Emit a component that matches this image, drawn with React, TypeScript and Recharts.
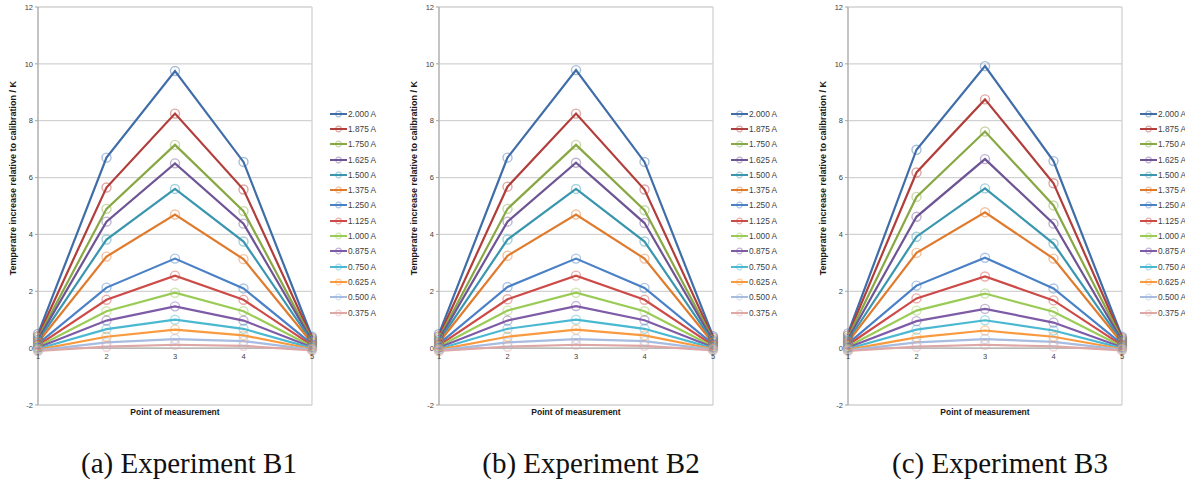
import {
  LineChart,
  Line,
  XAxis,
  YAxis,
  CartesianGrid,
  Legend,
  ReferenceLine,
  ReferenceDot,
} from 'recharts'

// ─── Measurement setup ─────────
const POINTS = [1, 2, 3, 4, 5]
const CURRENTS = [
  '2.000 A', '1.875 A', '1.750 A', '1.625 A', '1.500 A', '1.375 A', '1.250 A',
  '1.125 A', '1.000 A', '0.875 A', '0.750 A', '0.625 A', '0.500 A', '0.375 A',
]
const Y_TICKS = [-2, 0, 2, 4, 6, 8, 10, 12]

// Excel-ish series colours, one per current
const COLORS = [
  '#3F6DA8', '#B13E3B', '#88A844', '#6E5495', '#3A96AE', '#E07B2D', '#4A80C6',
  '#CC4B48', '#9ACB56', '#7D5BA6', '#4BB8D2', '#F99A3F', '#A7BCE0', '#DDA8A6',
]

// ─── Temperature increase / K, one row per current, one column per point ─────────
const B1 = [
  [0.50, 6.70, 9.75, 6.55, 0.40],
  [0.42, 5.65, 8.25, 5.58, 0.35],
  [0.36, 4.90, 7.15, 4.82, 0.30],
  [0.30, 4.45, 6.50, 4.38, 0.26],
  [0.25, 3.82, 5.60, 3.75, 0.22],
  [0.20, 3.22, 4.70, 3.13, 0.18],
  [0.15, 2.13, 3.15, 2.10, 0.14],
  [0.10, 1.70, 2.55, 1.70, 0.10],
  [0.06, 1.30, 1.95, 1.30, 0.06],
  [0.02, 0.97, 1.47, 0.97, 0.03],
  [-0.02, 0.67, 1.00, 0.68, 0.00],
  [-0.05, 0.40, 0.65, 0.45, -0.03],
  [-0.08, 0.20, 0.32, 0.25, -0.05],
  [-0.10, 0.05, 0.12, 0.08, -0.08],
]

const B2 = [
  [0.50, 6.70, 9.78, 6.55, 0.42],
  [0.42, 5.68, 8.25, 5.58, 0.36],
  [0.36, 4.90, 7.15, 4.85, 0.30],
  [0.30, 4.45, 6.52, 4.40, 0.26],
  [0.25, 3.82, 5.60, 3.75, 0.22],
  [0.20, 3.25, 4.70, 3.15, 0.18],
  [0.15, 2.15, 3.15, 2.12, 0.14],
  [0.10, 1.72, 2.55, 1.70, 0.10],
  [0.06, 1.32, 1.95, 1.30, 0.06],
  [0.02, 0.97, 1.48, 0.98, 0.03],
  [-0.02, 0.68, 1.00, 0.68, 0.00],
  [-0.05, 0.40, 0.65, 0.45, -0.03],
  [-0.08, 0.20, 0.32, 0.25, -0.05],
  [-0.10, 0.05, 0.12, 0.08, -0.08],
]

const B3 = [
  [0.52, 6.98, 9.92, 6.58, 0.40],
  [0.45, 6.18, 8.75, 5.80, 0.35],
  [0.38, 5.32, 7.62, 5.02, 0.30],
  [0.32, 4.62, 6.65, 4.38, 0.26],
  [0.26, 3.92, 5.62, 3.68, 0.22],
  [0.21, 3.35, 4.78, 3.15, 0.18],
  [0.16, 2.20, 3.18, 2.10, 0.14],
  [0.11, 1.75, 2.52, 1.68, 0.10],
  [0.06, 1.32, 1.92, 1.28, 0.06],
  [0.02, 0.95, 1.38, 0.90, 0.03],
  [-0.02, 0.65, 0.98, 0.62, 0.00],
  [-0.05, 0.38, 0.62, 0.40, -0.03],
  [-0.08, 0.20, 0.32, 0.22, -0.05],
  [-0.10, 0.05, 0.12, 0.06, -0.08],
]

const CAPTIONS = ['(a) Experiment B1', '(b) Experiment B2', '(c) Experiment B3']

// ─── Shared styles ─────────
const FONT = '"Liberation Sans", Arial, sans-serif'
const GRID = '#d2d2d2'
const AXIS = '#a6a6a6'
const TEXT = '#404040'

function buildRows(values: number[][]) {
  return POINTS.map((p, i) => {
    const row: Record<string, number> = { point: p }
    values.forEach((series, s) => {
      row[`s${s}`] = series[i]
    })
    return row
  })
}

function YTitle({ viewBox }: any) {
  const x = viewBox.x + 13
  const y = viewBox.y + viewBox.height * 0.43
  return (
    <text
      x={x}
      y={y}
      transform={`rotate(-90, ${x}, ${y})`}
      textAnchor="middle"
      dominantBaseline="central"
      fontSize={9}
      fontWeight="bold"
      fill="#1a1a1a"
      fontFamily={FONT}
    >
      Temperatre increase relative to calibration / K
    </text>
  )
}

// legend keeps the series order (highest current first)
function LegendList({ payload }: any) {
  const items = [...(payload || [])].sort(
    (a: any, b: any) => CURRENTS.indexOf(a.value) - CURRENTS.indexOf(b.value),
  )
  return (
    <div style={{ fontFamily: FONT }}>
      {items.map((item: any) => (
        <div key={item.value} style={{ display: 'flex', alignItems: 'center', height: 15.3 }}>
          <svg width={17} height={8} style={{ display: 'block' }}>
            <line x1={0} y1={4} x2={17} y2={4} stroke={item.color} strokeWidth={2} />
            <circle cx={8.5} cy={4} r={2.8} fill="none" stroke={item.color} strokeOpacity={0.45} strokeWidth={1.2} />
          </svg>
          <span style={{ fontSize: 8.3, color: TEXT, marginLeft: 1, whiteSpace: 'nowrap' }}>{item.value}</span>
        </div>
      ))}
    </div>
  )
}

function Panel({ values, left }: { values: number[][]; left: number }) {
  const data = buildRows(values)
  return (
    <div style={{ position: 'absolute', left, top: 0 }}>
      <LineChart
        width={395}
        height={420}
        data={data}
        margin={{ top: 7, right: 83, bottom: 5, left: 0 }}
      >
        <CartesianGrid stroke={GRID} strokeWidth={1.3} />
        <XAxis
          dataKey="point"
          tick={false}
          axisLine={false}
          tickLine={false}
          height={10}
          label={{
            value: 'Point of measurement',
            position: 'insideBottom',
            offset: 0,
            fontSize: 8.5,
            fontWeight: 'bold',
            fill: '#1a1a1a',
            fontFamily: FONT,
          }}
        />
        <YAxis
          domain={[-2, 12]}
          ticks={Y_TICKS}
          width={38}
          tickSize={3}
          axisLine={{ stroke: AXIS }}
          tickLine={{ stroke: AXIS }}
          tick={{ fontSize: 7.5, fill: TEXT, fontFamily: FONT }}
          label={<YTitle />}
        />
        <ReferenceLine y={0} stroke={AXIS} />
        {POINTS.map((p) => (
          <ReferenceDot
            key={p}
            x={p}
            y={0}
            r={0}
            stroke="none"
            fill="none"
            label={{ value: String(p), position: 'bottom', offset: 6, fontSize: 7.5, fill: TEXT, fontFamily: FONT }}
          />
        ))}
        {CURRENTS.map((name, s) => (
          <Line
            key={name}
            type="linear"
            dataKey={`s${s}`}
            name={name}
            stroke={COLORS[s]}
            strokeWidth={2.2}
            dot={{ r: 4.5, stroke: COLORS[s], strokeOpacity: 0.45, strokeWidth: 1.4, fill: 'none' }}
            isAnimationActive={false}
          />
        ))}
        <Legend
          layout="vertical"
          align="center"
          verticalAlign="middle"
          content={<LegendList />}
          wrapperStyle={{ left: 330, top: 106, width: 70 }}
        />
      </LineChart>
    </div>
  )
}

export default function App() {
  const panels = [
    { values: B1, left: 0, captionX: 189 },
    { values: B2, left: 401, captionX: 591 },
    { values: B3, left: 810, captionX: 1000 },
  ]
  return (
    <div
      style={{
        position: 'absolute',
        left: 0,
        top: 0,
        width: 1185,
        height: 480,
        overflow: 'hidden',
        background: '#fff',
      }}
    >
      {panels.map((p, i) => (
        <div key={i}>
          <Panel values={p.values} left={p.left} />
          <div
            style={{
              position: 'absolute',
              left: p.captionX - 150,
              width: 300,
              top: 448,
              lineHeight: '30px',
              textAlign: 'center',
              fontFamily: '"Liberation Serif", "Times New Roman", serif',
              fontSize: 29,
              color: '#111',
            }}
          >
            {CAPTIONS[i]}
          </div>
        </div>
      ))}
    </div>
  )
}
